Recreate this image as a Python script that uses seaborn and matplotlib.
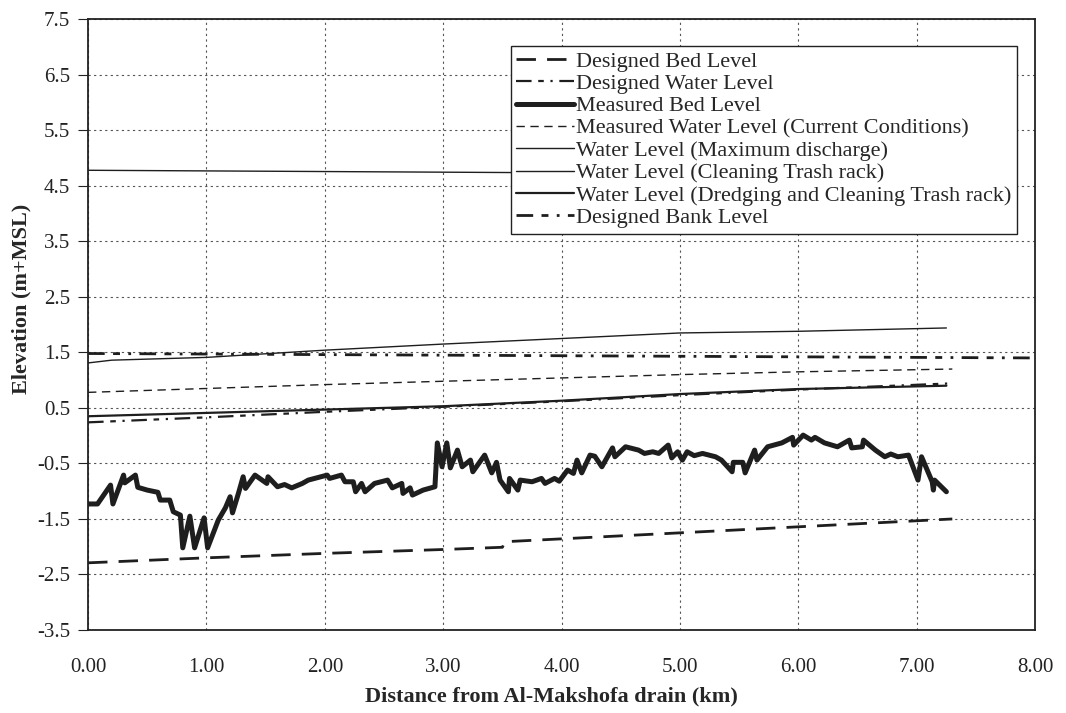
import matplotlib
matplotlib.use("Agg")
import matplotlib.pyplot as plt
import matplotlib.ticker as mticker
import seaborn as sns

# --- data (distance km, elevation m+MSL) ---
bed_design_x = [0.00, 1.00, 2.00, 3.00, 3.50, 3.52, 5.00, 7.30]
bed_design_y = [-2.29, -2.20, -2.12, -2.05, -2.01, -1.91, -1.75, -1.50]

water_design_x = [0.00, 1.00, 2.00, 3.00, 4.00, 5.00, 6.00, 7.27]
water_design_y = [0.24, 0.33, 0.43, 0.52, 0.62, 0.73, 0.83, 0.94]

bed_meas_x = [0.00, 0.08, 0.19, 0.21, 0.30, 0.31, 0.40, 0.42, 0.50, 0.59,
              0.61, 0.69, 0.72, 0.78, 0.80, 0.86, 0.90, 0.98, 1.01, 1.10,
              1.16, 1.20, 1.22, 1.27, 1.31, 1.33, 1.41, 1.51, 1.52, 1.60,
              1.66, 1.72, 1.81, 1.86, 2.02, 2.04, 2.14, 2.17, 2.24, 2.26,
              2.31, 2.34, 2.42, 2.53, 2.57, 2.65, 2.66, 2.72, 2.74, 2.83,
              2.93, 2.95, 2.99, 3.03, 3.06, 3.12, 3.16, 3.23, 3.25, 3.35,
              3.41, 3.45, 3.48, 3.55, 3.56, 3.63, 3.65, 3.75, 3.83, 3.86,
              3.94, 3.98, 4.05, 4.10, 4.13, 4.17, 4.24, 4.28, 4.34, 4.43,
              4.45, 4.54, 4.65, 4.70, 4.77, 4.82, 4.90, 4.93, 4.98, 5.02,
              5.06, 5.12, 5.19, 5.30, 5.35, 5.44, 5.45, 5.53, 5.55, 5.63,
              5.65, 5.74, 5.86, 5.95, 5.96, 6.04, 6.11, 6.14, 6.22, 6.33,
              6.43, 6.45, 6.54, 6.55, 6.65, 6.73, 6.78, 6.84, 6.93, 7.01,
              7.04, 7.13, 7.14, 7.15, 7.25]
bed_meas_y = [-1.23, -1.23, -0.89, -1.23, -0.71, -0.85, -0.71, -0.93, -0.98, -1.02,
              -1.16, -1.16, -1.37, -1.43, -2.02, -1.45, -2.02, -1.48, -2.02, -1.52,
              -1.30, -1.10, -1.39, -1.04, -0.74, -0.95, -0.71, -0.86, -0.74, -0.92,
              -0.88, -0.94, -0.86, -0.80, -0.71, -0.77, -0.71, -0.83, -0.83, -1.01,
              -0.86, -1.01, -0.86, -0.80, -0.94, -0.86, -1.04, -0.94, -1.07, -0.98,
              -0.92, -0.13, -0.56, -0.13, -0.58, -0.26, -0.56, -0.44, -0.65, -0.35,
              -0.67, -0.48, -0.80, -1.01, -0.77, -0.98, -0.80, -0.83, -0.77, -0.86,
              -0.77, -0.82, -0.62, -0.68, -0.44, -0.67, -0.35, -0.37, -0.56, -0.22,
              -0.38, -0.20, -0.26, -0.32, -0.29, -0.32, -0.17, -0.40, -0.29, -0.44,
              -0.29, -0.36, -0.32, -0.38, -0.44, -0.65, -0.48, -0.48, -0.67, -0.26,
              -0.44, -0.20, -0.13, -0.03, -0.17, 0.01, -0.08, -0.03, -0.13, -0.20,
              -0.08, -0.22, -0.20, -0.08, -0.26, -0.38, -0.33, -0.38, -0.35, -0.80,
              -0.38, -0.83, -0.98, -0.80, -1.01]

water_meas_x = [0.00, 1.00, 2.00, 3.00, 4.00, 5.00, 6.00, 7.30]
water_meas_y = [0.78, 0.85, 0.92, 0.98, 1.04, 1.10, 1.15, 1.20]

max_q_x = [0.00, 3.50, 7.27]
max_q_y = [4.78, 4.74, 4.70]

clean_x = [0.00, 0.20, 1.00, 2.00, 3.00, 4.00, 5.00, 6.00, 7.25]
clean_y = [1.31, 1.36, 1.41, 1.54, 1.65, 1.75, 1.85, 1.88, 1.94]

dredge_x = [0.00, 1.00, 2.00, 3.00, 4.00, 5.00, 6.00, 7.25]
dredge_y = [0.35, 0.41, 0.47, 0.53, 0.63, 0.75, 0.84, 0.90]

bank_x = [0.00, 8.00]
bank_y = [1.48, 1.40]

x_ticks = [0, 1, 2, 3, 4, 5, 6, 7, 8]
y_ticks = [-3.5, -2.5, -1.5, -0.5, 0.5, 1.5, 2.5, 3.5, 4.5, 5.5, 6.5, 7.5]

sns.set_style("white")
plt.rcParams['font.family'] = ['Liberation Serif', 'DejaVu Serif']

fig = plt.figure(figsize=(10.66, 7.13), dpi=100)
ax = fig.add_axes([0.0826, 0.1164, 0.8885, 0.8566])

ink = "#1e1e1e"
series = [
    (bed_design_x, bed_design_y, "Designed Bed Level", 2.0, (0, (7, 4))),
    (water_design_x, water_design_y, "Designed Water Level", 1.6, (0, (7, 3, 2.5, 3, 1, 3))),
    (bed_meas_x, bed_meas_y, "Measured Bed Level", 3.6, "-"),
    (water_meas_x, water_meas_y, "Measured Water Level (Current Conditions)", 1.0, (0, (6, 4))),
    (max_q_x, max_q_y, "Water Level (Maximum discharge)", 1.0, "-"),
    (clean_x, clean_y, "Water Level (Cleaning Trash rack)", 1.0, "-"),
    (dredge_x, dredge_y, "Water Level (Dredging and Cleaning Trash rack)", 1.6, "-"),
    (bank_x, bank_y, "Designed Bank Level", 2.0, (0, (6, 3, 2.5, 3, 1, 3))),
]

for xs, ys, name, lw, ls in series:
    sns.lineplot(x=xs, y=ys, ax=ax, label=name, color=ink, linewidth=lw,
                 linestyle=ls, estimator=None, sort=False)

ax.set_xlim(0, 8)
ax.set_ylim(-3.5, 7.5)
ax.set_xticks(x_ticks)
ax.set_yticks(y_ticks)
ax.xaxis.set_major_formatter(mticker.FormatStrFormatter('%.2f'))
ax.yaxis.set_major_formatter(mticker.FormatStrFormatter('%.1f'))
ax.grid(True, color="#555555", linestyle=(0, (2, 3)), linewidth=0.8)
ax.tick_params(axis='both', labelsize=15, colors="#222222")
ax.tick_params(axis='y', length=7, width=0.8, direction='out', left=True, pad=6)
ax.tick_params(axis='x', length=0, pad=20)
for sp in ax.spines.values():
    sp.set_color("#222222")
    sp.set_linewidth(1.3)

ax.set_xlabel("Distance from Al-Makshofa drain (km)", fontsize=16,
              fontweight='bold')
ax.set_ylabel("Elevation (m+MSL)", fontsize=16, fontweight='bold')
ax.xaxis.set_label_coords(0.489, -0.093)
ax.yaxis.set_label_coords(-0.060, 0.542)

leg = ax.legend(loc='upper right', bbox_to_anchor=(0.981, 0.957), fontsize=16,
                frameon=True, fancybox=False, framealpha=1, edgecolor="#222222",
                handlelength=2.6, handletextpad=0.1, labelspacing=0.08,
                borderpad=0.25, borderaxespad=0)
leg.get_frame().set_linewidth(1.0)
leg.set_zorder(5)

fig.savefig("out.png", dpi=100)
